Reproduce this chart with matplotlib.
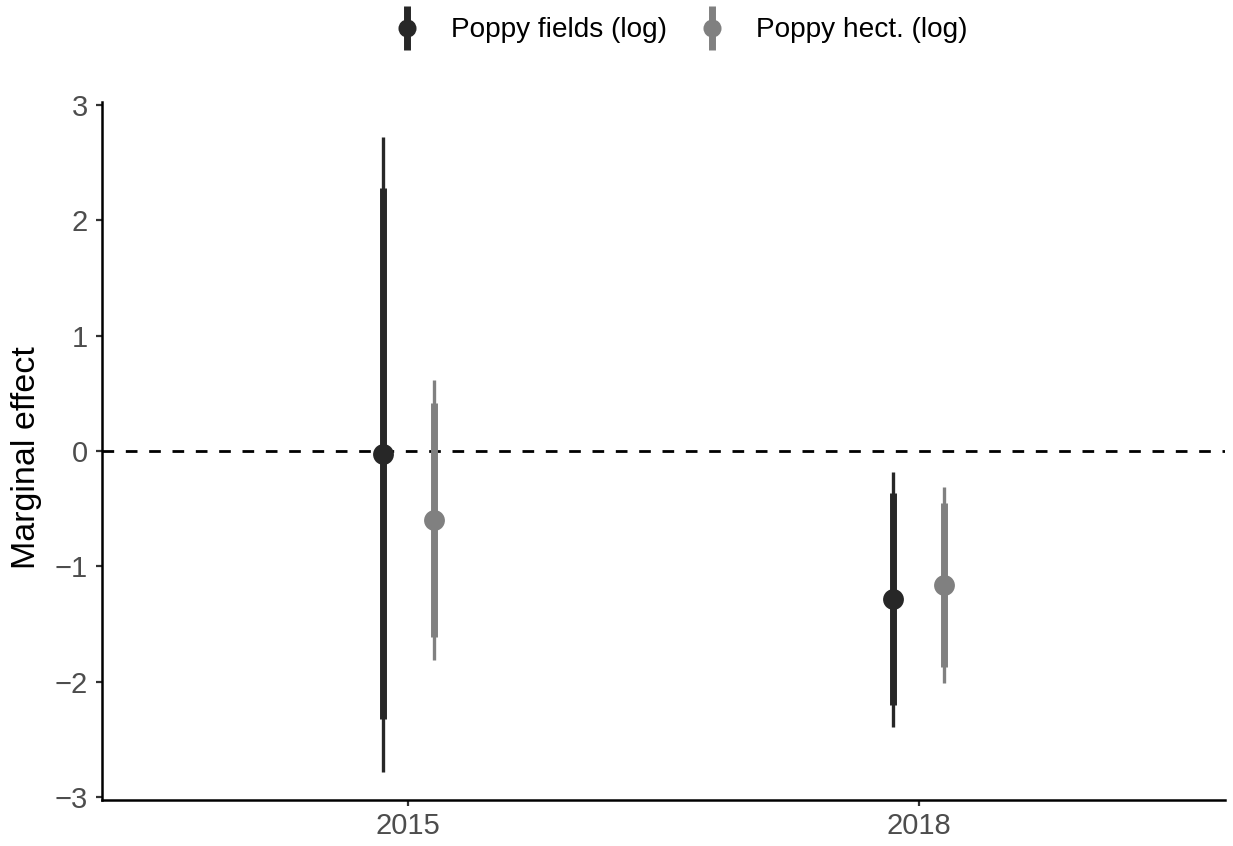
import matplotlib
matplotlib.use("Agg")
import matplotlib.pyplot as plt
import numpy as np
from matplotlib.lines import Line2D
from matplotlib.legend_handler import HandlerTuple

plt.rcParams['font.family'] = ['Liberation Sans', 'DejaVu Sans']

# data
years = ['2015', '2018']
series = ['Poppy fields (log)', 'Poppy hect. (log)']
fields_est = [-0.03, -1.28]
fields_lo90 = [-2.32, -2.20]
fields_hi90 = [2.28, -0.36]
fields_lo95 = [-2.78, -2.39]
fields_hi95 = [2.72, -0.18]
hect_est = [-0.60, -1.16]
hect_lo90 = [-1.61, -1.87]
hect_hi90 = [0.42, -0.45]
hect_lo95 = [-1.81, -2.01]
hect_hi95 = [0.62, -0.31]
yticks = [-3, -2, -1, 0, 1, 2, 3]

col_fields = '#272727'
col_hect = '#808080'
dodge = 0.05

fig = plt.figure(figsize=(12.33, 8.46), dpi=100)
ax = fig.add_axes([0.0827, 0.0539, 0.9108, 0.826])

pos = np.arange(1, len(years) + 1)
ax.axhline(0, color='black', lw=2.0, linestyle=(0, (4.2, 4.2)), zorder=1)

groups = [
    (pos - dodge, fields_est, fields_lo90, fields_hi90, fields_lo95, fields_hi95, col_fields),
    (pos + dodge, hect_est, hect_lo90, hect_hi90, hect_lo95, hect_hi95, col_hect),
]
for x, est, lo90, hi90, lo95, hi95, col in groups:
    ax.vlines(x, lo95, hi95, color=col, lw=2.4, capstyle='butt', zorder=2)
    ax.vlines(x, lo90, hi90, color=col, lw=5, capstyle='butt', zorder=3)
    ax.plot(x, est, 'o', color=col, markersize=15, markeredgewidth=0, zorder=4)

ax.set_xlim(0.4, 2.6)
ax.set_ylim(-3.03, 3.03)
ax.set_xticks(pos)
ax.set_xticklabels(years)
ax.set_yticks(yticks)
ax.set_yticklabels([str(t).replace('-', '\u2212') for t in yticks])

for s in ['top', 'right']:
    ax.spines[s].set_visible(False)
for s in ['left', 'bottom']:
    ax.spines[s].set_linewidth(1.8)
    ax.spines[s].set_color('black')
ax.tick_params(axis='both', length=4.3, width=1.6, color='#333333',
               labelsize=21, labelcolor='#4d4d4d')
ax.tick_params(axis='y', pad=6)
ax.tick_params(axis='x', pad=4)

ax.set_ylabel('Marginal effect', fontsize=24.5, color='black')
ax.yaxis.set_label_coords(-0.0535, 0.49)

# legend: point with a vertical bar through it
handles = []
for col in [col_fields, col_hect]:
    bar = Line2D([], [], marker='|', linestyle='none', color=col,
                 markersize=31, markeredgewidth=5)
    dot = Line2D([], [], marker='o', linestyle='none', color=col,
                 markersize=13, markeredgewidth=0)
    handles.append((bar, dot))

fig.legend(handles, series, loc='center', bbox_to_anchor=(0.5515, 0.964),
           ncol=2, frameon=False, fontsize=20.2, handlelength=1.0,
           handletextpad=1.07, columnspacing=1.1,
           handler_map={tuple: HandlerTuple(ndivide=1)})

fig.savefig('out.png', dpi=100)
